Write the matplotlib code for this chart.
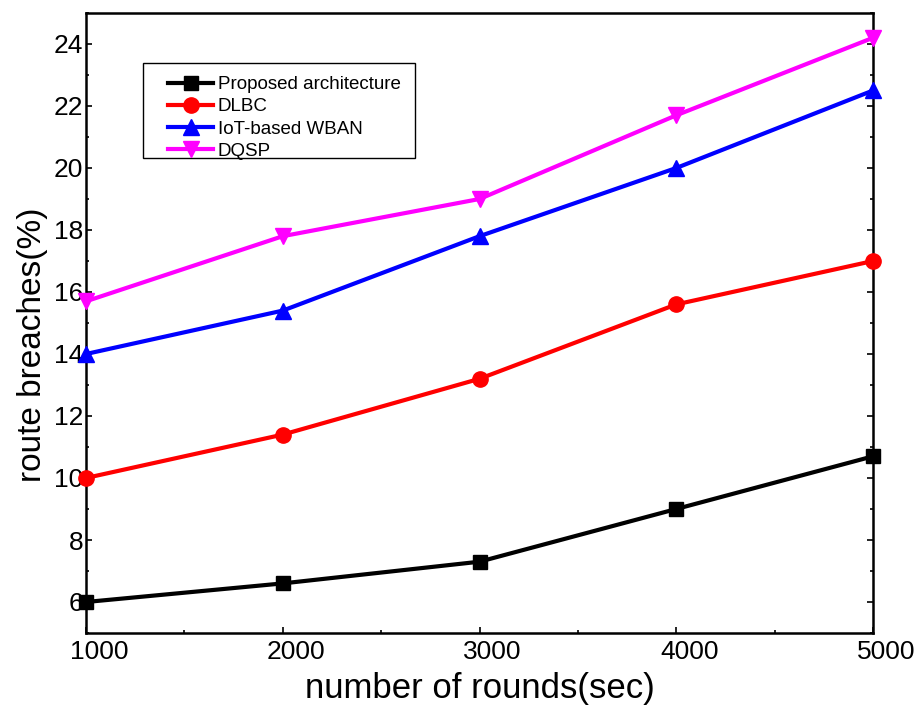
import matplotlib
matplotlib.use("Agg")
import matplotlib.pyplot as plt
from matplotlib.patches import Rectangle
from matplotlib.ticker import MultipleLocator
import matplotlib.transforms as mtransforms

plt.rcParams['font.family'] = ['Liberation Sans', 'DejaVu Sans']

rounds = [1000, 2000, 3000, 4000, 5000]
proposed = [6.0, 6.6, 7.3, 9.0, 10.7]
dlbc = [10.0, 11.4, 13.2, 15.6, 17.0]
iot_wban = [14.0, 15.4, 17.8, 20.0, 22.5]
dqsp = [15.7, 17.8, 19.0, 21.7, 24.2]
labels = ["Proposed architecture", "DLBC", "IoT-based WBAN", "DQSP"]
xticks = [1000, 2000, 3000, 4000, 5000]
yticks = [6, 8, 10, 12, 14, 16, 18, 20, 22, 24]

W, H = 922, 708
fig = plt.figure(figsize=(W / 100, H / 100), dpi=100)
ax = fig.add_axes([86 / W, 1 - 633 / H, (873 - 86) / W, (633 - 13) / H])

series = [proposed, dlbc, iot_wban, dqsp]
colors = ['black', 'red', 'blue', 'magenta']
markers = ['s', 'o', '^', 'v']
msizes = [10, 11, 11, 11]
handles = []
for ys, c, m, ms, lab in zip(series, colors, markers, msizes, labels):
    h, = ax.plot(rounds, ys, color=c, marker=m, markersize=ms, linewidth=3,
                 label=lab, clip_on=False, zorder=3)
    handles.append(h)

ax.set_xlim(1000, 5000)
ax.set_ylim(5, 25)
ax.set_xticks(xticks)
ax.set_yticks(yticks)
ax.xaxis.set_minor_locator(MultipleLocator(500))
ax.yaxis.set_minor_locator(MultipleLocator(1))
ax.tick_params(which='both', direction='in', top=False, right=True, width=1.2)
ax.tick_params(which='major', length=4, labelsize=19, pad=5)
ax.tick_params(which='minor', length=2.5)
ax.tick_params(axis='y', which='major', pad=2)
for sp in ax.spines.values():
    sp.set_linewidth(1.8)

offset = mtransforms.ScaledTranslation(13 / 100, 0, fig.dpi_scale_trans)
for lab in ax.get_xticklabels():
    lab.set_transform(lab.get_transform() + offset)

ax.set_xlabel("number of rounds(sec)", fontsize=25, labelpad=6)
ax.set_ylabel("route breaches(%)", fontsize=24, labelpad=4)
ax.yaxis.label.set_y(0.5 - 22 / 620)

leg = fig.legend(handles=handles, labels=labels, loc='upper left',
                 bbox_to_anchor=(168 / W, 1 - 76 / H), frameon=False,
                 fontsize=13.5, borderpad=0, borderaxespad=0,
                 handlelength=2.4, handletextpad=0.25, labelspacing=0.27)

fig.patches.append(Rectangle((143 / W, 1 - 158 / H), (415 - 143) / W, (158 - 63) / H,
                             transform=fig.transFigure, fill=False,
                             edgecolor='black', linewidth=1.0))

fig.savefig("out.png", dpi=100)
